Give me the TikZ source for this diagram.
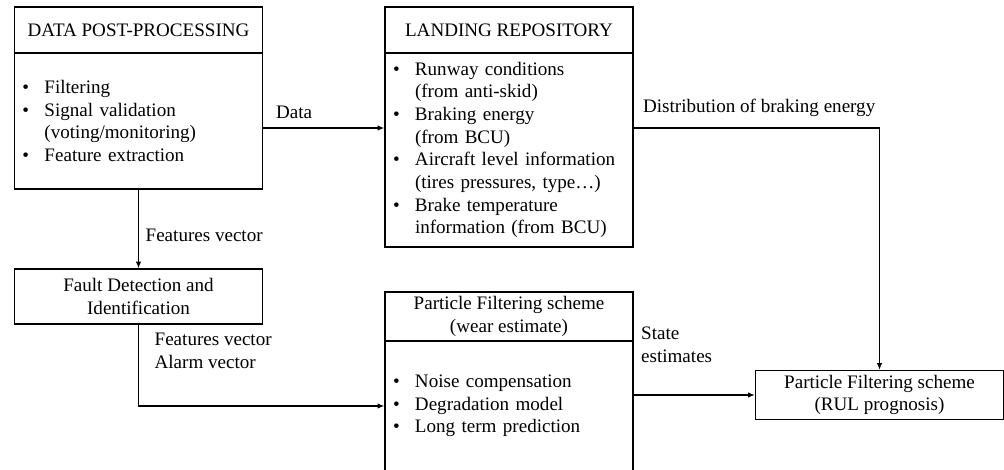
\documentclass[tikz,border=0pt]{standalone}
\usepackage{fontspec}
\setmainfont{Liberation Serif}
\usetikzlibrary{arrows.meta}
\newcommand{\block}[5][]{
	\path (#2,#3) node[draw, rectangle, minimum width=186pt, #1](#4){#5};
}
\newcommand{\edge}[3][]{
	\draw[#1] (#2) -- (#3);
}
\newcommand{\bul}{\makebox[16.5pt][l]{\textbullet}}
\newcommand{\gap}{\hspace*{16.5pt}}

\begin{document}
\begin{tikzpicture}[x=0.75pt, y=-0.75pt, line width=1pt,
	font=\fontsize{14.3}{17}\selectfont,
	listbox/.style={align=left, text width=174pt, inner xsep=6pt},
	flow/.style={line width=0.9pt, -{Latex[length=5pt, width=4pt]}},
	lbl/.style={inner sep=0pt, anchor=base west, align=left}]
	\useasboundingbox (0,0) rectangle (1004,470);
	\coordinate (dataLine) at (0,128);

	\block[minimum height=34.5pt]{138.5}{30}{dppTitle}{DATA POST-PROCESSING};
	\block[listbox, minimum height=102pt]{138.5}{121}{dppBody}{\bul Filtering\\ \bul Signal validation\\ \gap(voting/monitoring)\\ \bul Feature extraction};
	\block[minimum height=34.5pt]{509}{30}{repoTitle}{LANDING REPOSITORY};
	\block[listbox, minimum height=145.5pt]{509}{150}{repoBody}{\bul Runway conditions\\ \gap(from anti-skid)\\ \bul Braking energy\\ \gap(from BCU)\\ \bul Aircraft level information\\ \gap(tires pressures, type\dots)\\ \bul Brake temperature\\ \gap information (from BCU)};
	\block[align=center, minimum height=41.25pt]{138.5}{296.5}{fdi}{Fault Detection and\\ Identification};
	\block[align=center, minimum height=36.75pt]{509}{316.5}{wearTitle}{Particle Filtering scheme\\ (wear estimate)};
	\block[listbox, minimum height=97.5pt]{509}{406}{wearBody}{\bul Noise compensation\\ \bul Degradation model\\ \bul Long term prediction};
	\block[align=center, minimum height=36pt]{879.5}{395}{rul}{Particle Filtering scheme\\ (RUL prognosis)};

	\node[lbl] (dataLbl) at (275.5,119) {Data};
	\node[lbl] (featLbl) at (145,241.5) {Features vector};
	\node[lbl] (alarmLbl) at (154,368.5) {Features vector\\ Alarm vector};
	\node[lbl] (distLbl) at (642.5,112.5) {Distribution of braking energy};
	\node[lbl] (stateLbl) at (640.5,362.5) {State\\ estimates};

	\edge[flow]{dppBody.east |- dataLine}{repoBody.west |- dataLine};
	\edge[flow]{dppBody.south}{fdi.north};
	\draw[flow] (fdi.south) |- (wearBody.west);
	\draw[flow] (repoBody.east |- dataLine) -| (rul.north);
	\edge[flow]{rul.west -| wearBody.east}{rul.west};
\end{tikzpicture}
\end{document}
